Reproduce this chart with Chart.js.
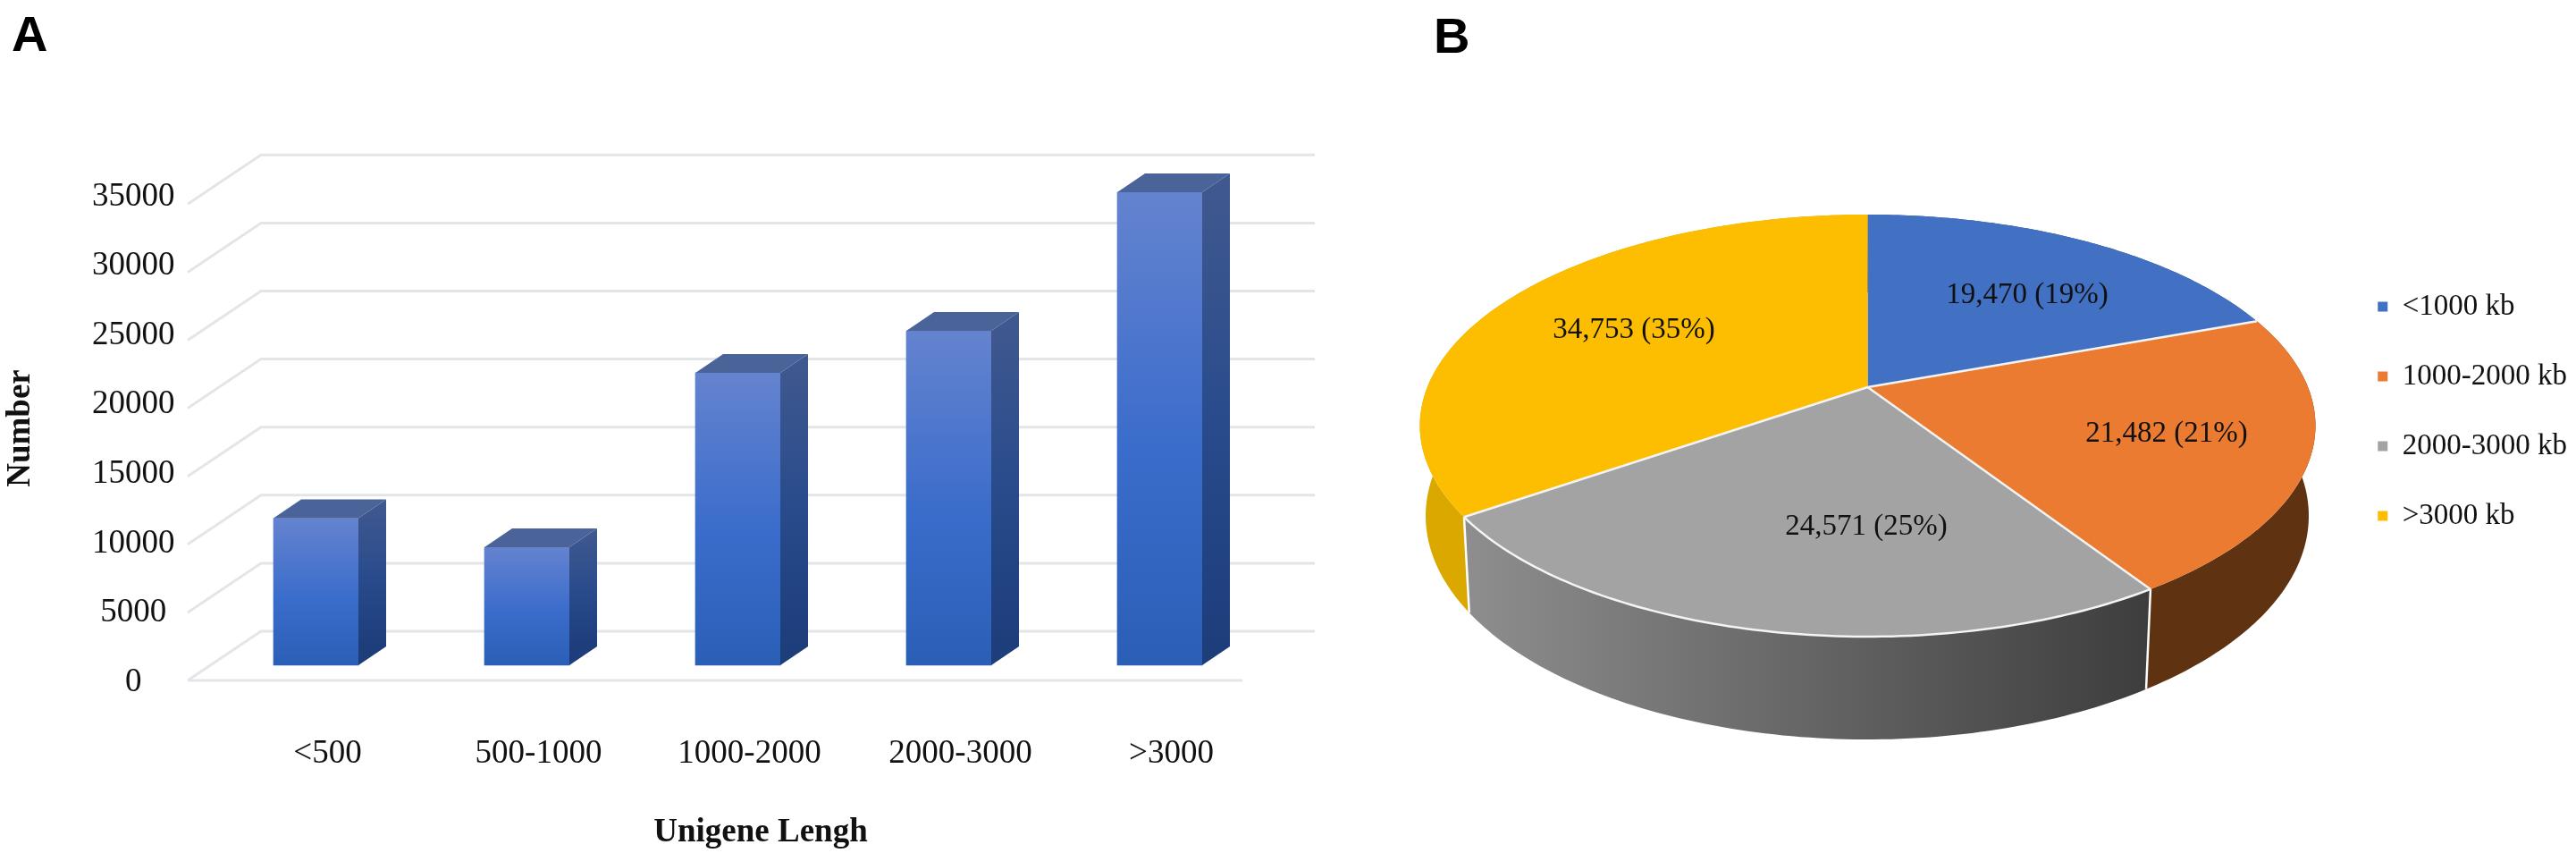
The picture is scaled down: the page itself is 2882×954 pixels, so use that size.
<!DOCTYPE html>
<html><head><meta charset="utf-8">
<script src="https://cdn.jsdelivr.net/npm/chart.js@4"></script>
<style>
html,body{margin:0;padding:0;background:#fff;width:2882px;height:954px;overflow:hidden;position:relative}
canvas{position:absolute;top:0}
.letter{position:absolute;font:bold 56px "Liberation Sans";color:#000;line-height:1}
</style></head><body>
<div class="letter" style="left:13px;top:10px">A</div>
<div class="letter" style="left:1604px;top:12px">B</div>
<canvas id="barChart" width="1480" height="954" style="left:0"></canvas>
<canvas id="pieChart" width="1402" height="954" style="left:1480px"></canvas>
<script>
const barCategories = ['<500','500-1000','1000-2000','2000-3000','>3000'];
const barValues = [10800, 8670, 21482, 24571, 34753];
const yTicksStep = 5000;
const yTicksMax = 35000;
const xAxisTitle = 'Unigene Lengh';
const yAxisTitle = 'Number';
const pieLabels = ['<1000 kb','1000-2000 kb','2000-3000 kb','>3000 kb'];
const pieValues = [19470, 21482, 24571, 34753];
const pieColors = ['#4270c2','#ea7b30','#a3a3a3','#fdbd00'];

const SERIF = '"Liberation Serif"';
const TXT = '#111';

/* ---------- panel A ---------- */
const pxPer5000 = 76.1, labelTop = 220, labelBottom = 763, barZeroY = 744;
const barsMin = -(labelBottom - barZeroY) / pxPer5000 * yTicksStep;
const barsMax = barsMin + (labelBottom - labelTop) / pxPer5000 * yTicksStep;
const depth = {dx: 31, dy: 21};
const wall = {frontX: 210, backX: 292, backRight: 1471, frontRight: 1390, toBack: -38, toFront: 17};

const bar3d = {
  id: 'bar3d',
  beforeDatasetsDraw(chart) {
    const c = chart.ctx, s = chart.scales.bars;
    c.save();
    c.strokeStyle = '#e3e5e9'; c.lineWidth = 3;
    for (let v = 0; v <= yTicksMax; v += yTicksStep) {
      const y = s.getPixelForValue(v);
      c.beginPath();
      c.moveTo(wall.frontX, y + wall.toFront);
      c.lineTo(wall.backX, y + wall.toBack);
      c.lineTo(wall.backRight, y + wall.toBack);
      c.stroke();
    }
    const y0 = s.getPixelForValue(0) + wall.toFront;
    c.beginPath(); c.moveTo(wall.frontX, y0); c.lineTo(wall.frontRight, y0); c.stroke();
    c.restore();
  },
  afterDatasetsDraw(chart) {
    const c = chart.ctx;
    chart.getDatasetMeta(0).data.forEach(el => {
      const l = el.x - el.width / 2, r = el.x + el.width / 2, t = el.y, b = el.base;
      const g = c.createLinearGradient(0, t - depth.dy, 0, b - depth.dy);
      g.addColorStop(0, '#41598f'); g.addColorStop(0.5, '#2a4c8c'); g.addColorStop(1, '#1d3d7b');
      c.fillStyle = g;
      c.beginPath(); c.moveTo(r, t); c.lineTo(r + depth.dx, t - depth.dy);
      c.lineTo(r + depth.dx, b - depth.dy); c.lineTo(r, b); c.closePath(); c.fill();
      c.fillStyle = '#4a6399';
      c.beginPath(); c.moveTo(l, t); c.lineTo(l + depth.dx, t - depth.dy);
      c.lineTo(r + depth.dx, t - depth.dy); c.lineTo(r, t); c.closePath(); c.fill();
    });
  },
  afterDraw(chart) {
    const c = chart.ctx;
    c.save();
    c.fillStyle = '#111'; c.font = 'bold 37px ' + SERIF;
    c.textAlign = 'center'; c.textBaseline = 'middle';
    c.fillText(xAxisTitle, 851, 931);
    c.translate(23, 479); c.rotate(-Math.PI / 2);
    c.fillText(yAxisTitle, 0, 0);
    c.restore();
  }
};

new Chart(document.getElementById('barChart'), {
  type: 'bar',
  data: {labels: barCategories, datasets: [{
    data: barValues, yAxisID: 'bars', barThickness: 95, clip: false, borderWidth: 0,
    backgroundColor(ctx) {
      const s = ctx.chart.scales.bars;
      const t = s ? s.getPixelForValue(ctx.raw) : NaN, b = s ? s.getPixelForValue(0) : NaN;
      if (!isFinite(t) || !isFinite(b)) return '#3a6bc9';
      const g = ctx.chart.ctx.createLinearGradient(0, t, 0, b);
      g.addColorStop(0, '#6483cf'); g.addColorStop(0.55, '#3a6ccb'); g.addColorStop(1, '#2b5fb6');
      return g;
    }
  }]},
  plugins: [bar3d],
  options: {
    responsive: false, animation: false, devicePixelRatio: 1,
    layout: {padding: {top: labelTop, right: 64.5, left: 0, bottom: 0}},
    plugins: {legend: {display: false}, tooltip: {enabled: false}},
    scales: {
      x: {
        grid: {display: false}, border: {display: false},
        afterFit(s) { s.height = 954 - labelBottom; },
        ticks: {color: TXT, font: {family: SERIF, size: 37}, padding: 50, labelOffset: 13, maxRotation: 0, autoSkip: false}
      },
      y: {
        min: 0, max: yTicksMax, position: 'left',
        grid: {display: false, drawTicks: false}, border: {display: false},
        afterFit(s) { s.width = 235.5; },
        ticks: {stepSize: yTicksStep, color: TXT, font: {family: SERIF, size: 37}, padding: 40, crossAlign: 'center',
                callback: v => String(v)}
      },
      bars: {display: false, min: barsMin, max: barsMax, position: 'left'}
    }
  }
});

/* ---------- panel B ---------- */
const topRim = {cx: 609.5, cy: 476, rx: 501, ry: 236};
const lowRim = {cx: 609, cy: 577, rx: 494, ry: 250};
const tilt = -0.182;
const pieSide = ['#2f4d85', '#5f3212', null, '#dba800'];
const labelAt = [[788, 330], [944, 485.5], [608, 589], [348, 369]];

function rimPoint(rim, theta) {
  const x = Math.sin(theta), y = -Math.cos(theta), d = 1 + tilt * y;
  return [rim.cx + rim.rx * x * Math.sqrt(1 - tilt * tilt) / d, rim.cy + rim.ry * (y + tilt) / d];
}
function sliceRim(rim, el) {
  const a = el.startAngle + Math.PI / 2, b = el.endAngle + Math.PI / 2, pts = [];
  for (let i = 0; i <= 90; i++) pts.push(rimPoint(rim, a + (b - a) * i / 90));
  return pts;
}
const pie3d = {
  id: 'pie3d',
  beforeDatasetDraw(chart) {
    const c = chart.ctx, els = chart.getDatasetMeta(0).data;
    const apex = [topRim.cx, topRim.cy + topRim.ry * tilt];
    c.save(); c.lineJoin = 'round';
    /* side walls */
    els.forEach((el, i) => {
      const up = sliceRim(topRim, el), lo = sliceRim(lowRim, el).reverse();
      let fill = pieSide[i];
      if (!fill) {
        const xs = up.map(p => p[0]);
        const g = c.createLinearGradient(Math.min(...xs), 0, Math.max(...xs), 0);
        g.addColorStop(0, '#8e8e8e'); g.addColorStop(1, '#3d3d3d');
        fill = g;
      }
      c.fillStyle = fill;
      c.beginPath();
      up.concat(lo).forEach((p, k) => k ? c.lineTo(p[0], p[1]) : c.moveTo(p[0], p[1]));
      c.closePath(); c.fill();
    });
    /* white seams on the gray wall */
    const gray = els[2], up = sliceRim(topRim, gray), lo = sliceRim(lowRim, gray);
    c.strokeStyle = '#fff'; c.lineWidth = 2.5;
    [0, 90].forEach(k => {
      c.beginPath(); c.moveTo(up[k][0], up[k][1]); c.lineTo(lo[k][0], lo[k][1]); c.stroke();
    });
    /* top faces */
    els.forEach((el, i) => {
      const pts = sliceRim(topRim, el);
      c.fillStyle = pieColors[i];
      c.beginPath(); c.moveTo(apex[0], apex[1]);
      pts.forEach(p => c.lineTo(p[0], p[1]));
      c.closePath(); c.fill();
    });
    /* white separators */
    c.strokeStyle = '#f4f4f4'; c.lineWidth = 2.5;
    els.slice(0, 3).forEach(el => {
      const p = rimPoint(topRim, el.endAngle + Math.PI / 2);
      c.beginPath(); c.moveTo(apex[0], apex[1]); c.lineTo(p[0], p[1]); c.stroke();
    });
    c.beginPath();
    up.forEach((p, k) => k ? c.lineTo(p[0], p[1]) : c.moveTo(p[0], p[1]));
    c.stroke();
    c.restore();
    return false;
  },
  afterDraw(chart) {
    const c = chart.ctx, total = pieValues.reduce((a, b) => a + b, 0);
    c.save();
    c.fillStyle = '#111'; c.font = '33px ' + SERIF; c.textAlign = 'center'; c.textBaseline = 'middle';
    pieValues.forEach((v, i) => {
      const txt = v.toLocaleString('en-US') + ' (' + Math.round(v / total * 100) + '%)';
      c.fillText(txt, labelAt[i][0], labelAt[i][1]);
    });
    c.restore();
  }
};

new Chart(document.getElementById('pieChart'), {
  type: 'pie',
  data: {labels: pieLabels, datasets: [{data: pieValues, backgroundColor: pieColors, borderWidth: 0}]},
  plugins: [pie3d],
  options: {
    responsive: false, animation: false, devicePixelRatio: 1, radius: 501,
    layout: {padding: {top: 0, bottom: 34, left: 0, right: 0}},
    plugins: {
      tooltip: {enabled: false},
      legend: {
        position: 'right', align: 'center',
        labels: {boxWidth: 11, boxHeight: 11, padding: 45, color: TXT, font: {family: SERIF, size: 33}}
      }
    }
  }
});
</script>
</body></html>
